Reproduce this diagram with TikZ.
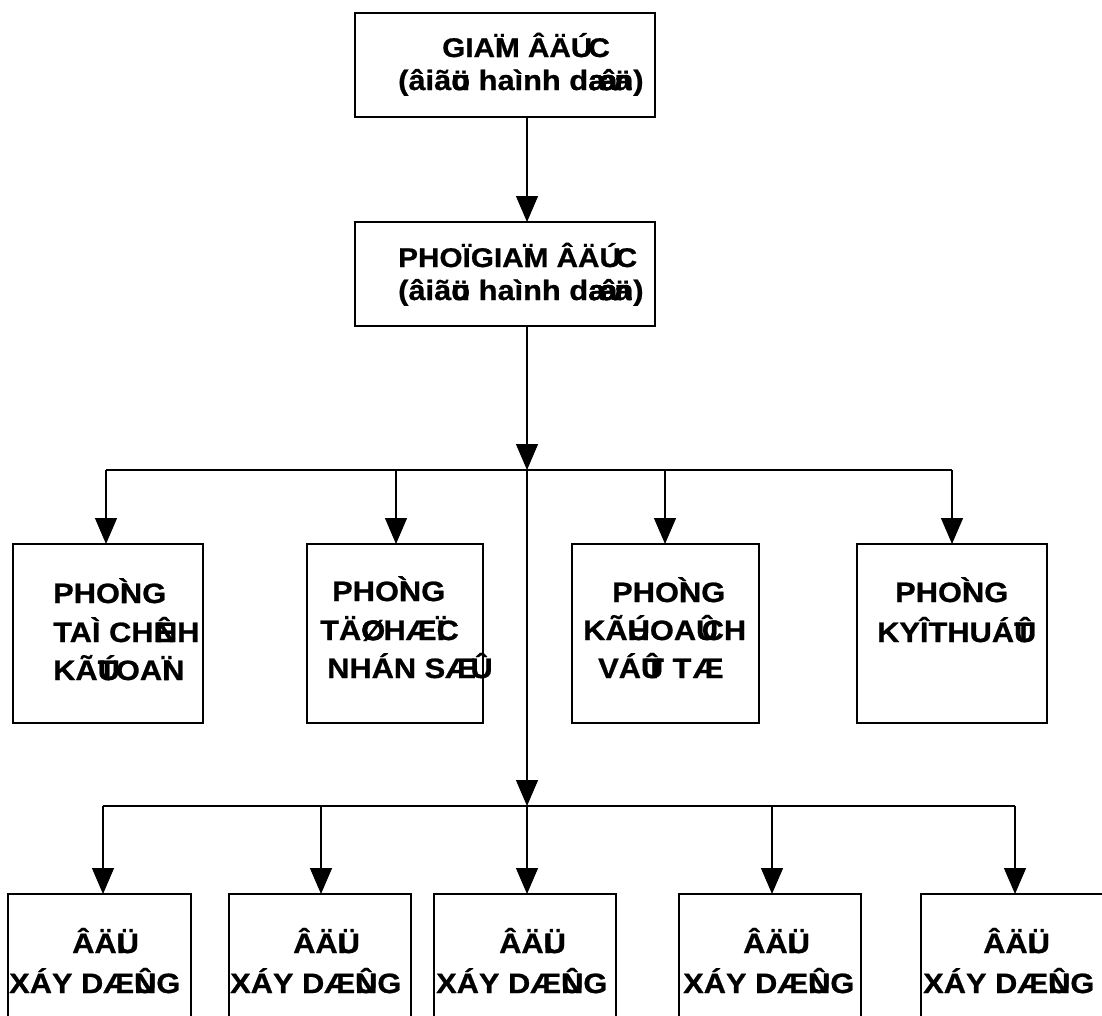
\documentclass[tikz,border=0pt]{standalone}
\usepackage{fontspec}
\setmainfont{Liberation Sans}[FakeStretch=1.1,BoldFeatures={FakeBold=0.8}]
\usetikzlibrary{arrows.meta}
\newcommand\olp[2]{\rlap{#1}#2}
\newcommand\dgline{(âiã\olp{ö}{u} haình d\rlap{a}æ\kern-.55em\rlap{â}a\kern-.1em\olp{ä}{n})}
\newcommand\phong{PHO\olp{Ì}{N}G}
\newcommand\doiA{ÂÄ\rlap{I}Ü}
\newcommand\doiB{XÁY DÆ\olp{Û}{N}G}
\begin{document}
\begin{tikzpicture}[x=1pt,y=-1pt,
  box/.style={draw, line width=1.3pt, inner sep=0pt, outer sep=0pt},
  txt/.style={anchor=base west, inner sep=0pt, font=\bfseries\fontsize{28}{28}\selectfont},
  txts/.style={txt, font=\bfseries\fontsize{27}{27}\selectfont},
  arr/.style={line width=1.3pt, -{Triangle[width=22pt,length=26pt]}},
  ln/.style={line width=1.3pt}]
\useasboundingbox (0,0) rectangle (1102,1015);
\clip (0,0) rectangle (1102,1015);
% boxes
\node[box, minimum width=300pt, minimum height=104pt] (gd) at (505,65) {};
\node[box, minimum width=300pt, minimum height=104pt] (pgd) at (505,274) {};
\node[box, minimum width=190pt, minimum height=179pt] (p1) at (108,633.5) {};
\node[box, minimum width=176pt, minimum height=179pt] (p2) at (395,633.5) {};
\node[box, minimum width=187pt, minimum height=179pt] (p3) at (665.5,633.5) {};
\node[box, minimum width=190pt, minimum height=179pt] (p4) at (952,633.5) {};
\node[box, minimum width=183pt, minimum height=151pt] (b1) at (99.5,969.5) {};
\node[box, minimum width=182pt, minimum height=151pt] (b2) at (320,969.5) {};
\node[box, minimum width=182pt, minimum height=151pt] (b3) at (525,969.5) {};
\node[box, minimum width=182pt, minimum height=151pt] (b4) at (770,969.5) {};
\node[box, minimum width=189pt, minimum height=151pt] (b5) at (1015.5,969.5) {};
% texts
\node[txts] (gdt1) at (442,57) {GIA\olp{Ï}{M} ÂÄ\rlap{Ú}\kern.65em C};
\node[txt] (gdt2) at (398,90) {\dgline};
\node[txts] (pgdt1) at (398,267) {PHOÏGIA\olp{Ï}{M} ÂÄ\rlap{Ú}\kern.6em C};
\node[txt] (pgdt2) at (398,300) {\dgline};
\node[txt] (p1a) at (53,603) {\phong};
\node[txt] (p1b) at (53,642) {TAÌ CH\rlap{Ê}\kern.05em NH};
\node[txt] (p1c) at (53,680) {KÃ\olp{Ú}{T}OA\olp{Ï}{N}};
\node[txt] (p2a) at (332,601) {\phong};
\node[txt] (p2b) at (320,640) {TÄ\olp{Ø}{C}HÆ\olp{Ï}{C}};
\node[txt] (p2c) at (327,678) {NHÁN SÆ\kern-.2em Û};
\node[txt] (p3a) at (612,602) {\phong};
\node[txt] (p3b) at (583,640) {KÃ\olp{Ú}{H}OA\rlap{Û}\kern.2em CH};
\node[txt] (p3c) at (598,678) {VÁ\rlap{Û}\kern.15em T T\kern.05em Æ};
\node[txt] (p4a) at (895,602) {\phong};
\node[txt] (p4b) at (877,642) {KYÎTHUÁ\olp{Û}{T}};
\node[txt] (b1a) at (72,953) {\doiA};
\node[txt] (b1b) at (9,993) {\doiB};
\node[txt] (b2a) at (293,953) {\doiA};
\node[txt] (b2b) at (230,993) {\doiB};
\node[txt] (b3a) at (499,953) {\doiA};
\node[txt] (b3b) at (436,993) {\doiB};
\node[txt] (b4a) at (743,953) {\doiA};
\node[txt] (b4b) at (683,993) {\doiB};
\node[txt] (b5a) at (983,953) {\doiA};
\node[txt] (b5b) at (923,993) {\doiB};
% junctions
\coordinate (j1) at (527,470);
\coordinate (j2) at (527,806);
\coordinate (c1) at (106,470);
\coordinate (c2) at (396,470);
\coordinate (c3) at (665,470);
\coordinate (c4) at (952,470);
\coordinate (d1) at (103,806);
\coordinate (d2) at (321,806);
\coordinate (d3) at (527,806);
\coordinate (d4) at (772,806);
\coordinate (d5) at (1015,806);
% connectors
\draw[arr] (gd.south -| j1) -- (pgd.north -| j1);
\draw[arr] (pgd.south -| j1) -- (j1);
\draw[ln] (c1) -- (c4);
\draw[arr] (c1) -- (c1 |- p1.north);
\draw[arr] (c2) -- (c2 |- p2.north);
\draw[arr] (c3) -- (c3 |- p3.north);
\draw[arr] (c4) -- (c4 |- p4.north);
\draw[arr] (j1) -- (j2);
\draw[ln] (d1) -- (d5);
\draw[arr] (d1) -- (d1 |- b1.north);
\draw[arr] (d2) -- (d2 |- b2.north);
\draw[arr] (d3) -- (d3 |- b3.north);
\draw[arr] (d4) -- (d4 |- b4.north);
\draw[arr] (d5) -- (d5 |- b5.north);
\end{tikzpicture}
\end{document}
